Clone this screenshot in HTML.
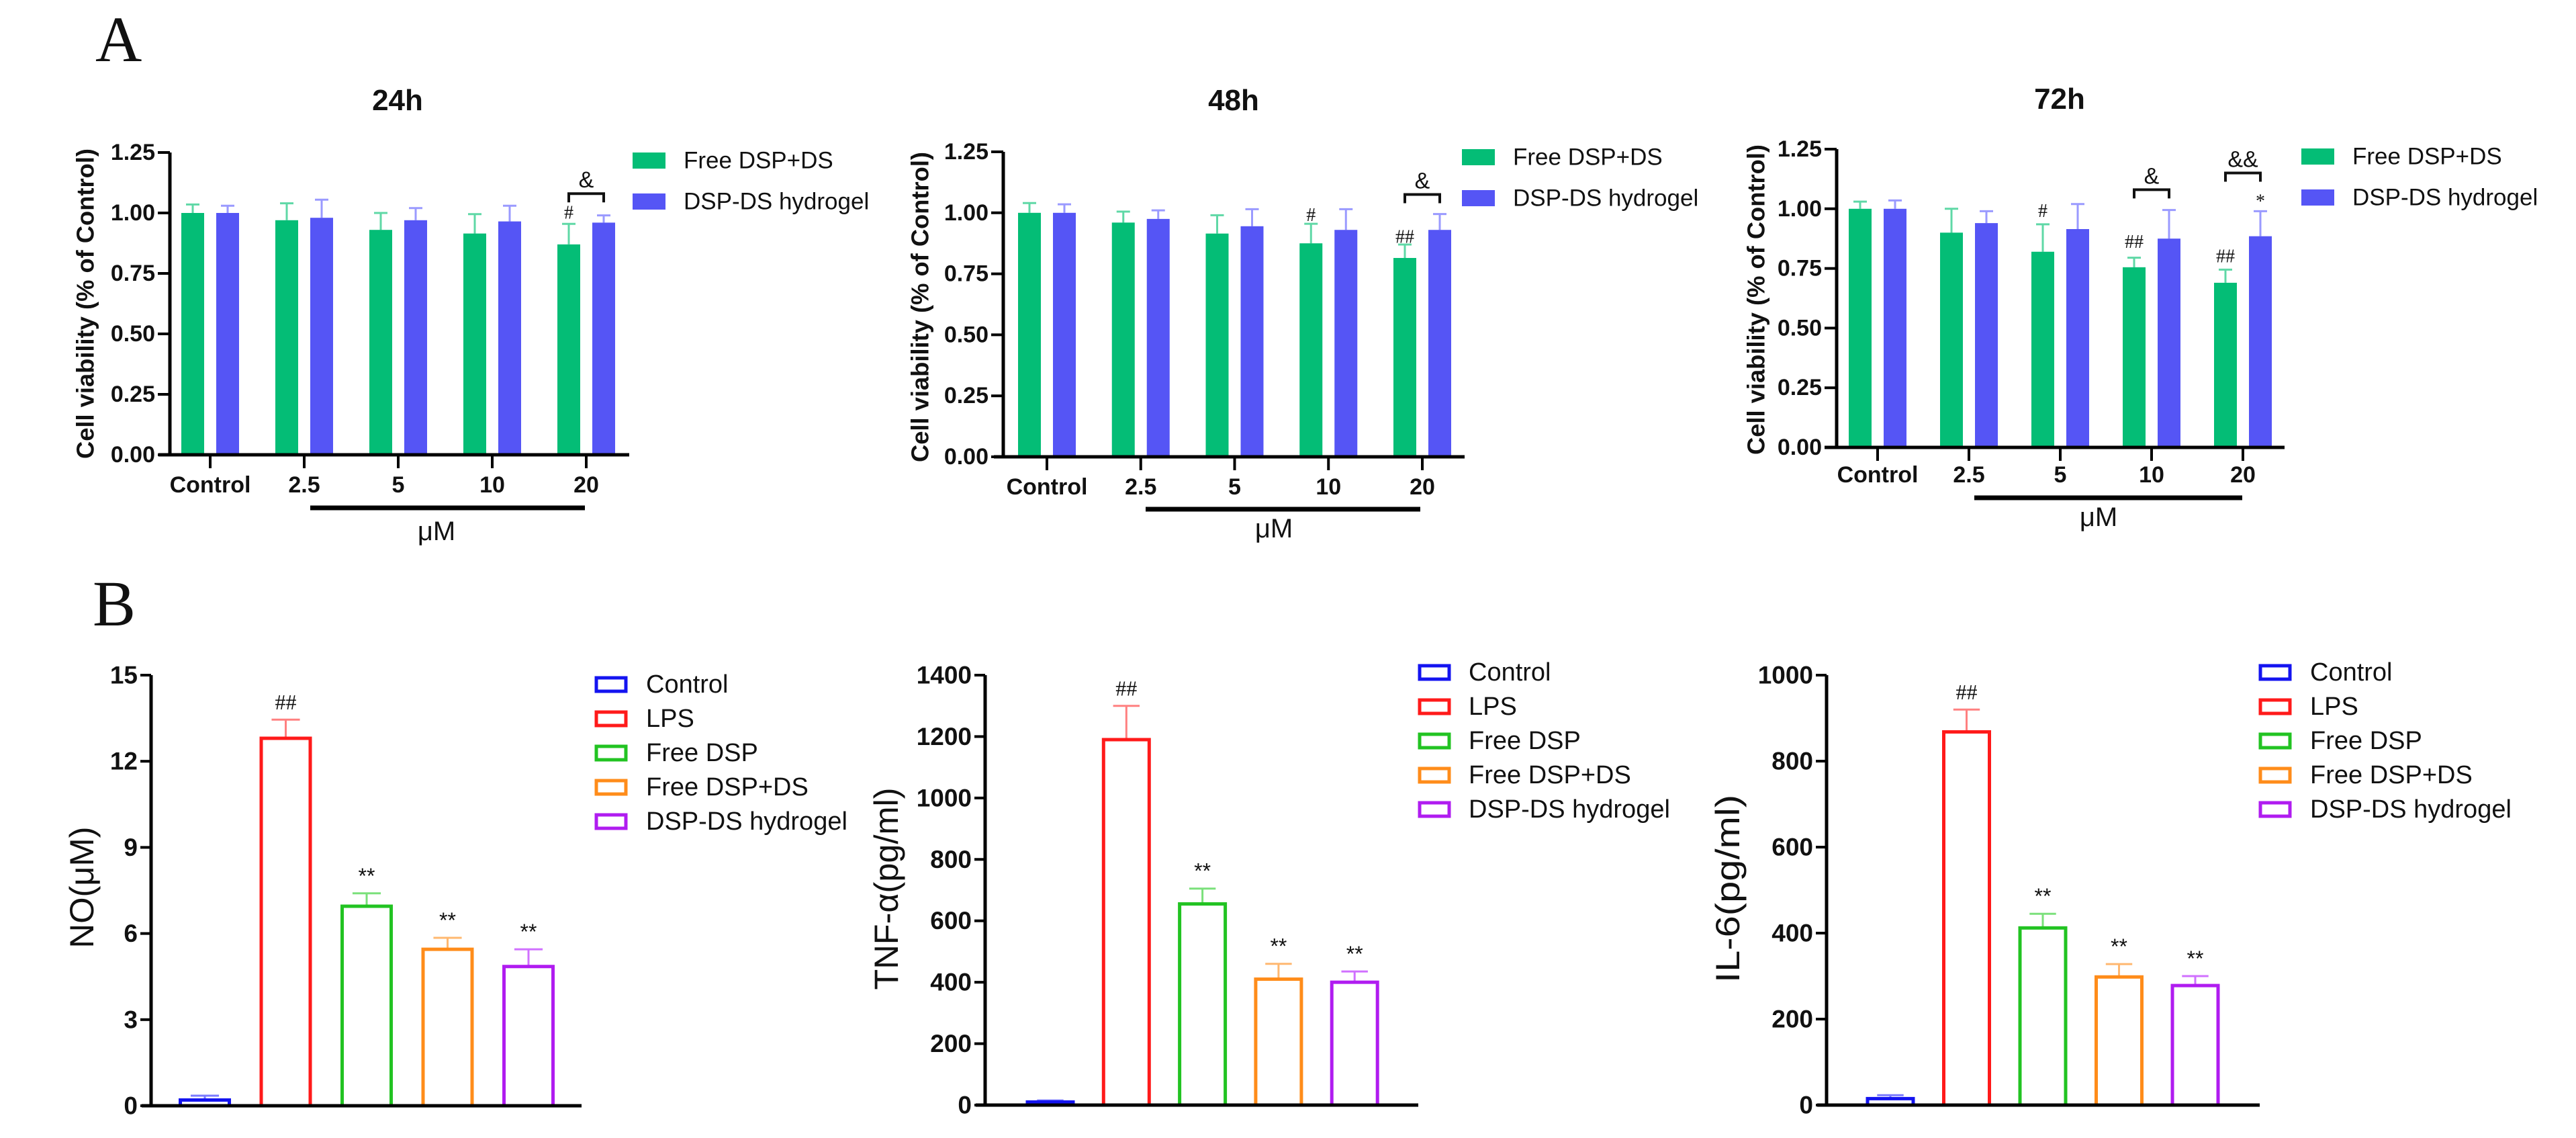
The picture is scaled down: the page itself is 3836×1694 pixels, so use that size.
<!DOCTYPE html>
<html><head><meta charset="utf-8"><style>
html,body{margin:0;padding:0;background:#fff;}
svg{display:block;}
text{font-family:"Liberation Sans",Arial,sans-serif;fill:#111;}
</style></head><body>
<svg id="fig" xmlns="http://www.w3.org/2000/svg" width="3836" height="1694" viewBox="0 0 3836 1694">
<text x="142" y="91" style="font-family:'Liberation Serif',serif;font-size:96px">A</text>
<text x="138" y="931" style="font-family:'Liberation Serif',serif;font-size:96px">B</text>
</svg>
<script>
// ---------- Panel A data ----------
const catsA = ["Control", "2.5", "5", "10", "20"];
const ticksA = [0, 0.25, 0.5, 0.75, 1.0, 1.25];
const tickLabelsA = ["0.00", "0.25", "0.50", "0.75", "1.00", "1.25"];
const green24 = [1.00, 0.97, 0.93, 0.915, 0.87];
const greenErr24 = [0.035, 0.07, 0.07, 0.08, 0.085];
const blue24 = [1.00, 0.98, 0.97, 0.965, 0.96];
const blueErr24 = [0.03, 0.075, 0.05, 0.065, 0.03];
const green48 = [1.00, 0.96, 0.915, 0.875, 0.815];
const greenErr48 = [0.04, 0.045, 0.075, 0.08, 0.055];
const blue48 = [1.00, 0.975, 0.945, 0.93, 0.93];
const blueErr48 = [0.035, 0.035, 0.07, 0.085, 0.065];
const green72 = [1.00, 0.90, 0.82, 0.755, 0.69];
const greenErr72 = [0.03, 0.10, 0.115, 0.04, 0.055];
const blue72 = [1.00, 0.94, 0.915, 0.875, 0.885];
const blueErr72 = [0.035, 0.05, 0.105, 0.12, 0.105];
const seriesNamesA = ["Free DSP+DS", "DSP-DS hydrogel"];

// ---------- Panel B data ----------
const catsB = ["Control", "LPS", "Free DSP", "Free DSP+DS", "DSP-DS hydrogel"];
const noVals = [0.2, 12.8, 6.95, 5.45, 4.85];
const noErr = [0.15, 0.65, 0.45, 0.4, 0.6];
const noTicks = [0, 3, 6, 9, 12, 15];
const tnfVals = [10, 1190, 655, 410, 400];
const tnfErr = [5, 110, 50, 50, 35];
const tnfTicks = [0, 200, 400, 600, 800, 1000, 1200, 1400];
const il6Vals = [15, 868, 412, 298, 278];
const il6Err = [8, 52, 33, 30, 22];
const il6Ticks = [0, 200, 400, 600, 800, 1000];
const marksB = ["", "##", "**", "**", "**"];

const NS = "http://www.w3.org/2000/svg";
const svg = document.getElementById("fig");
function mk(tag, attrs, parent) {
  const e = document.createElementNS(NS, tag);
  for (const k in attrs) e.setAttribute(k, attrs[k]);
  (parent || svg).appendChild(e);
  return e;
}
function txt(s, attrs, parent) { const e = mk("text", attrs, parent); e.textContent = s; return e; }

const colG = "#04bd76", colGe = "#5fd8a6", colB = "#5555f5", colBe = "#9a9aff";

function panelA(cfg) {
  const g = mk("g", {});
  
  
  const y = v => cfg.y0 - (cfg.y0 - cfg.y1) * v / 1.25;
  const x = i => cfg.c0 + cfg.step * i;
  const t = txt(cfg.title, {x: cfg.tx, y: cfg.ty, "text-anchor": "middle", "font-weight": "bold", "font-size": 44}, g);
  
  
  const yl = txt("Cell viability (% of Control)", {x: 0, y: 0, "text-anchor": "middle", "font-weight": "bold", "font-size": 36, "dominant-baseline": "central", textLength: 462, lengthAdjust: "spacingAndGlyphs", transform: `translate(${cfg.lx},${cfg.ly}) rotate(-90)`}, g);
  
  
  const sets = [[cfg.gv, cfg.ge, colG, colGe, -26], [cfg.bv, cfg.be, colB, colBe, 26]];
  sets.forEach((s, si) => {
    s[0].forEach((v, i) => {
      const cx = x(i) + s[4];
      const eb = mk("path", {d: `M${cx},${y(v)} V${y(v + s[1][i])} M${cx - 10},${y(v + s[1][i])} H${cx + 10}`, stroke: s[3], "stroke-width": 3, fill: "none"}, g);
      
      
      const r = mk("rect", {x: cx - 17, y: y(v), width: 34, height: y(0) - y(v), fill: s[2]}, g);
      
      
    });
  });
  const ax = mk("path", {d: `M${cfg.ax},${y(1.25)} V${y(0)} M${cfg.xa0},${y(0)} H${cfg.xa1}`, stroke: "#000", "stroke-width": 5, fill: "none"}, g);
  
  
  ticksA.forEach((tv, i) => {
    mk("line", {x1: cfg.ax - 18, x2: cfg.ax, y1: y(tv), y2: y(tv), stroke: "#000", "stroke-width": 4}, g);
    const tl = txt(tickLabelsA[i], {x: cfg.ax - 22, y: y(tv), "text-anchor": "end", "dominant-baseline": "central", "font-weight": "bold", "font-size": 34}, g);
    
    
  });
  catsA.forEach((c, i) => {
    mk("line", {x1: x(i), x2: x(i), y1: y(0), y2: y(0) + 20, stroke: "#000", "stroke-width": 4}, g);
    const cl = txt(c, {x: x(i), y: cfg.cly, "text-anchor": "middle", "dominant-baseline": "central", "font-weight": "bold", "font-size": 34}, g);
    
    
  });
  const ul = mk("line", {x1: cfg.u0, x2: cfg.u1, y1: cfg.uy, y2: cfg.uy, stroke: "#000", "stroke-width": 7}, g);
  
  
  const um = txt("μM", {x: cfg.mx, y: cfg.my, "text-anchor": "middle", "dominant-baseline": "central", "font-size": 40}, g);
  
  
  cfg.ann.forEach(a => {
    const cx = x(a[0]) + (a[1] ? 26 : -26);
    const an = txt(a[2], {x: cx, y: y(a[3]), "text-anchor": "middle", "dominant-baseline": "central", "font-size": 28, style: "font-family:'Liberation Serif',serif"}, g);
    
    
  });
  cfg.br.forEach(b => {
    const x0 = x(b[0]) - 26, x1 = x(b[0]) + 26, by = y(b[1]);
    const p = mk("path", {d: `M${x0},${by + 13} V${by} H${x1} V${by + 13}`, stroke: "#111", "stroke-width": 4, fill: "none"}, g);
    
    
    const bt = txt(b[2], {x: (x0 + x1) / 2, y: by - 20, "text-anchor": "middle", "dominant-baseline": "central", "font-size": 34}, g);
    
    
  });
  [colG, colB].forEach((c, i) => {
    const lr = mk("rect", {x: cfg.lgx, y: cfg.lgy + i * 61 - 12, width: 49, height: 24, fill: c}, g);
    
    
    const lt = txt(seriesNamesA[i], {x: cfg.lgx + 76, y: cfg.lgy + i * 61, "dominant-baseline": "central", "font-size": 35}, g);
    
    
  });
}

panelA({name: "chart-24h", title: "24h", tx: 592, ty: 164, lx: 127, ly: 452, y0: 677, y1: 227, c0: 313, step: 140, ax: 253, xa0: 236, xa1: 937, cly: 722, u0: 462, u1: 871, uy: 756, mx: 650, my: 791,
  gv: green24, ge: greenErr24, bv: blue24, be: blueErr24, lgx: 942, lgy: 239,
  ann: [[4, 0, "#", 1.0]], br: [[4, 1.08, "&"]]});
panelA({name: "chart-48h", title: "48h", tx: 1837, ty: 164, lx: 1370, ly: 457, y0: 680, y1: 226, c0: 1559, step: 139.75, ax: 1494, xa0: 1480, xa1: 2181, cly: 725, u0: 1706, u1: 2115, uy: 758, mx: 1897, my: 787,
  gv: green48, ge: greenErr48, bv: blue48, be: blueErr48, lgx: 2177, lgy: 234,
  ann: [[3, 0, "#", 0.99], [4, 0, "##", 0.9]], br: [[4, 1.075, "&"]]});
panelA({name: "chart-72h", title: "72h", tx: 3067, ty: 162, lx: 2615, ly: 446, y0: 666, y1: 222, c0: 2796, step: 136, ax: 2735, xa0: 2717, xa1: 3402, cly: 707, u0: 2940, u1: 3339, uy: 741, mx: 3125, my: 770,
  gv: green72, ge: greenErr72, bv: blue72, be: blueErr72, lgx: 3427, lgy: 233,
  ann: [[2, 0, "#", 0.99], [3, 0, "##", 0.86], [4, 0, "##", 0.8], [4, 1, "*", 1.03]], br: [[3, 1.08, "&"], [4, 1.15, "&&"]]});

const colsB = ["#1414f0", "#ff1a1a", "#22c322", "#ff8c1a", "#b01cf0"];
const colsBe = ["#7a7aff", "#ff8080", "#7be07b", "#ffb870", "#d070ff"];

function panelB(cfg) {
  const g = mk("g", {});
  
  
  const max = cfg.ticks[cfg.ticks.length - 1];
  const y = v => cfg.y0 - (cfg.y0 - cfg.y1) * v / max;
  const x = i => cfg.c0 + cfg.step * i;
  const yl = txt(cfg.label, {x: 0, y: 0, "text-anchor": "middle", "dominant-baseline": "central", "font-size": 50, textLength: cfg.ll, lengthAdjust: "spacingAndGlyphs", transform: `translate(${cfg.lx},${cfg.ly}) rotate(-90)`}, g);
  
  
  cfg.vals.forEach((v, i) => {
    const cx = x(i), w = cfg.bw;
    const top = y(v + cfg.err[i]);
    const eb = mk("path", {d: `M${cx},${y(v)} V${top} M${cx - w * 0.27},${top} H${cx + w * 0.27}`, stroke: colsBe[i], "stroke-width": 3, fill: "none"}, g);
    
    
    const r = mk("rect", {x: cx - w / 2 + 2.5, y: y(v), width: w - 5, height: Math.max(y(0) - y(v), 2), fill: "#fff", stroke: colsB[i], "stroke-width": 5}, g);
    
    
    if (marksB[i]) {
      const m = txt(marksB[i], {x: cx, y: top - 26, "text-anchor": "middle", "dominant-baseline": "central", "font-size": 32, style: marksB[i] === "##" ? "font-family:'Liberation Serif',serif" : ""}, g);
      
      
    }
  });
  const ax = mk("path", {d: `M${cfg.ax},${cfg.y1} V${cfg.y0} M${cfg.xa0},${cfg.y0} H${cfg.xa1}`, stroke: "#000", "stroke-width": 5, fill: "none"}, g);
  
  
  cfg.ticks.forEach(tv => {
    mk("line", {x1: cfg.ax - 16, x2: cfg.ax, y1: y(tv), y2: y(tv), stroke: "#000", "stroke-width": 4}, g);
    const tl = txt(String(tv), {x: cfg.ax - 20, y: y(tv), "text-anchor": "end", "dominant-baseline": "central", "font-weight": "bold", "font-size": 37}, g);
    
    
  });
  catsB.forEach((c, i) => {
    const ly = cfg.lgy + i * 51;
    const lr = mk("rect", {x: cfg.lgx + 2, y: ly - 10, width: 44, height: 20, fill: "none", stroke: colsB[i], "stroke-width": 5}, g);
    
    
    const lt = txt(c, {x: cfg.tx, y: ly, "dominant-baseline": "central", "font-size": 38}, g);
    
    
  });
}

panelB({name: "chart-no", label: "NO(μM)", ll: 181, lx: 122, ly: 1321, vals: noVals, err: noErr, ticks: noTicks, y0: 1646, y1: 1005, ax: 225, xa0: 211, xa1: 866, c0: 305, step: 120.5, bw: 78, lgx: 886, lgy: 1019, tx: 962});
panelB({name: "chart-tnf", label: "TNF-α(pg/ml)", ll: 301, lx: 1320, ly: 1323, vals: tnfVals, err: tnfErr, ticks: tnfTicks, y0: 1645, y1: 1005, ax: 1467, xa0: 1453, xa1: 2112, c0: 1564, step: 113.3, bw: 73, lgx: 2112, lgy: 1001, tx: 2187});
panelB({name: "chart-il6", label: "IL-6(pg/ml)", ll: 280, lx: 2573, ly: 1323, vals: il6Vals, err: il6Err, ticks: il6Ticks, y0: 1645, y1: 1005, ax: 2720, xa0: 2706, xa1: 3365, c0: 2815, step: 113.5, bw: 73, lgx: 3364, lgy: 1001, tx: 3440});
</script>
</body></html>
